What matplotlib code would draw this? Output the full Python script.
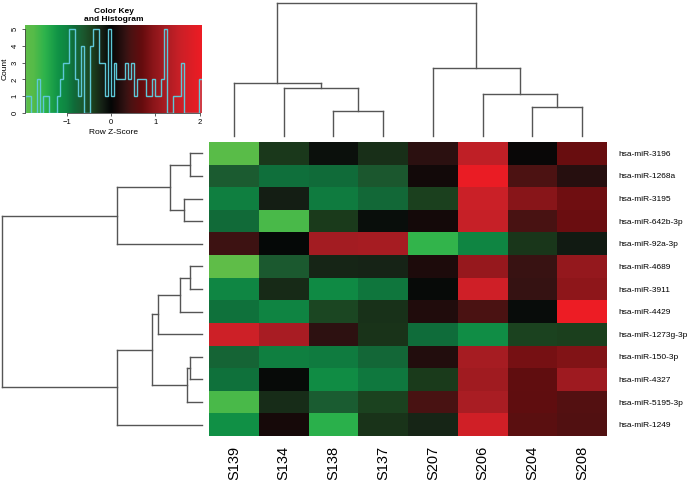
import numpy as np
import matplotlib
matplotlib.use("Agg")
import matplotlib.pyplot as plt
from matplotlib.colors import LinearSegmentedColormap

plt.rcParams['font.family'] = ['Liberation Sans', 'DejaVu Sans']

samples = ["S139", "S134", "S138", "S137", "S207", "S206", "S204", "S208"]
mirnas = ["hsa-miR-3196", "hsa-miR-1268a", "hsa-miR-3195", "hsa-miR-642b-3p",
          "hsa-miR-92a-3p", "hsa-miR-4689", "hsa-miR-3911", "hsa-miR-4429",
          "hsa-miR-1273g-3p", "hsa-miR-150-3p", "hsa-miR-4327", "hsa-miR-5195-3p",
          "hsa-miR-1249"]

# row z-scores, rows top->bottom, columns in dendrogram order
zscores = [
    [-1.82, -0.36, -0.08, -0.29, 0.26, 1.45, 0.03, 0.71],
    [-0.66, -0.86, -0.83, -0.63, 0.09, 2.00, 0.47, 0.24],
    [-0.97, -0.19, -0.94, -0.79, -0.42, 1.56, 0.93, 0.76],
    [-0.81, -1.66, -0.38, -0.06, 0.11, 1.51, 0.43, 0.74],
    [0.38, -0.02, 1.19, 1.22, -1.52, -1.01, -0.35, -0.15],
    [-1.94, -0.64, -0.23, -0.21, 0.17, 1.06, 0.35, 1.04],
    [-1.03, -0.27, -1.07, -0.91, -0.03, 1.62, 0.33, 0.98],
    [-0.87, -0.99, -0.46, -0.31, 0.18, 0.46, -0.04, 2.05],
    [1.61, 1.23, 0.28, -0.33, -0.84, -1.12, -0.43, -0.40],
    [-0.74, -0.96, -0.93, -0.78, 0.21, 1.21, 0.81, 0.89],
    [-0.88, -0.03, -1.11, -0.92, -0.37, 1.16, 0.66, 1.14],
    [-1.67, -0.28, -0.67, -0.44, 0.44, 1.24, 0.64, 0.53],
    [-1.16, 0.12, -1.46, -0.32, -0.24, 1.63, 0.60, 0.51],
]

# dendrogram merges (child a, child b, height); clusters numbered after leaves
col_merges = [(2, 3, 2.5), (1, 8, 4.8), (0, 9, 5.3), (6, 7, 2.9),
              (5, 11, 4.2), (4, 12, 6.8), (10, 13, 13.3)]
row_merges = [(0, 1, 0.6), (2, 3, 0.9), (13, 14, 1.6), (15, 4, 4.25),
              (5, 6, 0.6), (17, 7, 1.1), (18, 8, 2.2), (9, 10, 0.6),
              (20, 11, 0.75), (19, 21, 2.5), (22, 12, 4.25), (16, 23, 10.0)]

cmap_stops = [(-1.94, "#5fbd48"), (-1.75, "#55bb48"), (-1.5, "#2db34c"),
              (-1.2, "#109346"), (-1.0, "#0f8442"), (-0.85, "#0f6d3a"),
              (-0.65, "#1b5a30"), (-0.4, "#1b3e1c"), (-0.2, "#152015"),
              (0.0, "#040606"), (0.15, "#1a0a0a"), (0.3, "#301212"),
              (0.45, "#4a1212"), (0.7, "#650c0e"), (0.95, "#8a1519"),
              (1.2, "#a41c22"), (1.55, "#c92027"), (2.05, "#ed1c24")]

z = np.array(zscores)
vmin, vmax = z.min(), z.max()
cmap = LinearSegmentedColormap.from_list(
    "gbr", [((v - vmin) / (vmax - vmin), c) for v, c in cmap_stops])

W, H = 697, 480
fig = plt.figure(figsize=(W / 100, H / 100), dpi=100)


def fax(x0, y0, x1, y1):
    return fig.add_axes([x0 / W, 1 - y1 / H, (x1 - x0) / W, (y1 - y0) / H])


def dendro_segments(merges, n):
    pos = {i: i + 0.5 for i in range(n)}
    hgt = {i: 0.0 for i in range(n)}
    segs = []
    for k, (a, b, h) in enumerate(merges):
        segs.append(((pos[a], hgt[a]), (pos[a], h)))
        segs.append(((pos[b], hgt[b]), (pos[b], h)))
        segs.append(((pos[a], h), (pos[b], h)))
        pos[n + k] = (pos[a] + pos[b]) / 2
        hgt[n + k] = h
    return segs


lc = "#555555"

# heatmap
ax = fax(209, 142, 607, 436)
ax.pcolormesh(np.arange(len(samples) + 1), np.arange(len(mirnas) + 1), z,
              cmap=cmap, vmin=vmin, vmax=vmax)
ax.set_xlim(0, len(samples))
ax.set_ylim(len(mirnas), 0)
ax.set_xticks(np.arange(len(samples)) + 0.5)
ax.set_xticklabels(samples, rotation=90, fontsize=10.5)
ax.set_yticks(np.arange(len(mirnas)) + 0.5)
ax.set_yticklabels(mirnas, fontsize=6)
ax.yaxis.tick_right()
ax.tick_params(length=0)
ax.tick_params(axis='x', pad=7)
ax.tick_params(axis='y', pad=8)
for s in ax.spines.values():
    s.set_visible(False)

# column dendrogram
axc = fax(209, 3, 607, 136)
for (x0, y0), (x1, y1) in dendro_segments(col_merges, len(samples)):
    axc.plot([x0, x1], [y0, y1], color=lc, lw=1, clip_on=False)
axc.set_xlim(0, len(samples))
axc.set_ylim(0, col_merges[-1][2])
axc.axis('off')

# row dendrogram
axr = fax(2, 142, 202, 436)
for (y0, x0), (y1, x1) in dendro_segments(row_merges, len(mirnas)):
    axr.plot([x0, x1], [y0, y1], color=lc, lw=1, clip_on=False)
axr.set_ylim(len(mirnas), 0)
axr.set_xlim(row_merges[-1][2], 0)
axr.axis('off')

# color key with histogram
axk = fax(25, 25, 202, 113)
edges = np.linspace(vmin, vmax, 61)
counts, _ = np.histogram(z.ravel(), bins=edges)
ytop = 5.24
grad = np.linspace(vmin, vmax, 256)[None, :]
axk.imshow(grad, cmap=cmap, vmin=vmin, vmax=vmax, aspect='auto',
           extent=(vmin, vmax, 0, ytop))
axk.stairs(counts, edges, color="#5ec8d8", lw=1)
axk.set_xlim(vmin, vmax)
axk.set_ylim(0, ytop)
axk.set_xticks([-1, 0, 1, 2])
axk.set_yticks(range(6))
axk.tick_params(labelsize=5.5, length=2.5, width=0.6, pad=2, color="#444444")
for lab in axk.get_yticklabels():
    lab.set_rotation(90)
    lab.set_va('center')
axk.spines['top'].set_visible(False)
axk.spines['right'].set_visible(False)
axk.spines['left'].set_bounds(0, 5)
axk.spines['bottom'].set_bounds(-1, 2)
for s in ('left', 'bottom'):
    axk.spines[s].set_linewidth(0.6)
    axk.spines[s].set_color("#444444")
axk.set_xlabel("Row Z-Score", fontsize=6, labelpad=2)
axk.set_ylabel("Count", fontsize=6, labelpad=2)
axk.set_title("Color Key\nand Histogram", fontsize=6, fontweight='bold', pad=3,
              linespacing=1.1)

fig.savefig("out.png", dpi=100)
